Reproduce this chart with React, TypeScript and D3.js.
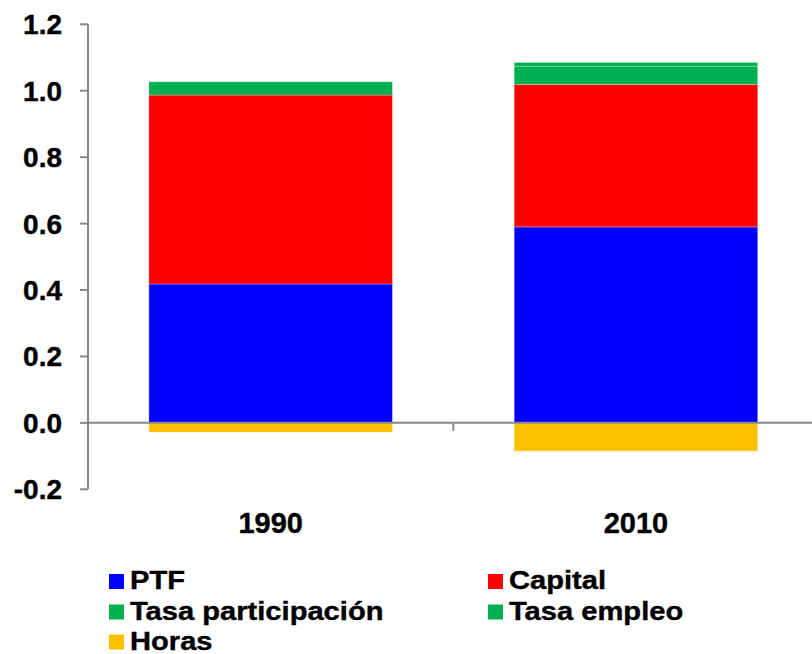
import React from "react";
import * as d3 from "d3";

const categories = ["1990", "2010"];
const seriesNames = ["PTF", "Capital", "Tasa participación", "Tasa empleo", "Horas"];
const seriesColors = ["#0000FF", "#FF0000", "#00B050", "#00B050", "#FFC000"];
const ptf = [0.418, 0.59];
const capital = [0.569, 0.429];
const tasaParticipacion = [0.04, 0.055];
const tasaEmpleo = [0.0, 0.011];
const horas = [-0.028, -0.085];
const yTicks = [-0.2, 0, 0.2, 0.4, 0.6, 0.8, 1.0, 1.2];

const W = 812;
const H = 654;
const FONT = "'Liberation Sans', Arial, sans-serif";

export default function App() {
  const seriesValues = [ptf, capital, tasaParticipacion, tasaEmpleo, horas];
  const y = d3.scaleLinear().domain([-0.2, 1.2]).range([489.3, 24.3]);
  const x = d3
    .scaleBand<string>()
    .domain(categories)
    .range([88, 818.6])
    .paddingInner(1 / 3)
    .paddingOuter(1 / 6);

  const rects: React.ReactNode[] = [];
  categories.forEach((cat, ci) => {
    let pos = 0;
    let neg = 0;
    seriesValues.forEach((vals, si) => {
      const v = vals[ci];
      if (v === 0) return;
      let y0: number, y1: number;
      if (v >= 0) {
        y0 = pos;
        y1 = pos + v;
        pos = y1;
      } else {
        y0 = neg;
        y1 = neg + v;
        neg = y1;
      }
      const top = y(Math.max(y0, y1));
      const bot = y(Math.min(y0, y1));
      rects.push(
        <rect
          key={`${cat}-${si}`}
          x={x(cat)}
          y={top}
          width={x.bandwidth()}
          height={bot - top}
          fill={seriesColors[si]}
          stroke="#ffffff"
          strokeOpacity={0.35}
          strokeWidth={0.8}
        />
      );
    });
  });

  const axisColor = "#888888";
  const legendItems = [
    { name: seriesNames[0], color: seriesColors[0], col: 0, row: 0 },
    { name: seriesNames[1], color: seriesColors[1], col: 1, row: 0 },
    { name: seriesNames[2], color: seriesColors[2], col: 0, row: 1 },
    { name: seriesNames[3], color: seriesColors[3], col: 1, row: 1 },
    { name: seriesNames[4], color: seriesColors[4], col: 0, row: 2 },
  ];
  const colX = [109, 488];
  const rowTop = [574, 604.5, 634.5];

  return (
    <svg
      width={W}
      height={H}
      style={{ position: "absolute", left: 0, top: 0, background: "#fff" }}
      fontFamily={FONT}
    >
      <rect x={0} y={0} width={W} height={H} fill="#fff" />
      {rects}
      {/* y axis */}
      <line x1={88} x2={88} y1={y(1.2)} y2={y(-0.2)} stroke={axisColor} strokeWidth={2} />
      {yTicks.map((t) => (
        <g key={t}>
          <line x1={80} x2={88} y1={y(t)} y2={y(t)} stroke={axisColor} strokeWidth={2} />
          <text
            x={62}
            y={y(t) + 10}
            textAnchor="end"
            fontSize={28}
            fontWeight="bold"
            fill="#000"
            stroke="#000"
            strokeWidth={0.4}
          >
            {t.toFixed(1)}
          </text>
        </g>
      ))}
      {/* x axis at zero */}
      <line x1={88} x2={W} y1={y(0)} y2={y(0)} stroke={axisColor} strokeWidth={2} />
      <line
        x1={(x("1990")! + x.bandwidth() + x("2010")!) / 2}
        x2={(x("1990")! + x.bandwidth() + x("2010")!) / 2}
        y1={y(0)}
        y2={y(0) + 8}
        stroke={axisColor}
        strokeWidth={2}
      />
      {categories.map((c) => (
        <text
          key={c}
          x={x(c)! + x.bandwidth() / 2}
          y={533}
          textAnchor="middle"
          fontSize={29}
          fontWeight="bold"
          fill="#000"
          stroke="#000"
          strokeWidth={0.4}
        >
          {c}
        </text>
      ))}
      {/* legend */}
      {legendItems.map((it) => (
        <g key={it.name}>
          <rect x={colX[it.col]} y={rowTop[it.row]} width={15} height={15} fill={it.color} />
          <text
            transform={`translate(${colX[it.col] + 21},${rowTop[it.row] + 15}) scale(1.12,1)`}
            fontSize={26}
            fontWeight="bold"
            fill="#000"
            stroke="#000"
            strokeWidth={0.4}
          >
            {it.name}
          </text>
        </g>
      ))}
    </svg>
  );
}
